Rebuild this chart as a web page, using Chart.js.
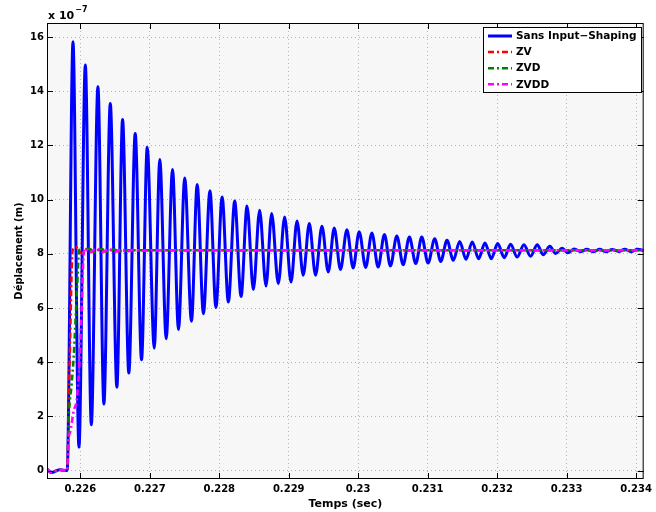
<!DOCTYPE html>
<html>
<head>
<meta charset="utf-8">
<script src="https://cdn.jsdelivr.net/npm/chart.js@4.4.0/dist/chart.umd.min.js"></script>
<style>
  html, body { margin: 0; padding: 0; background: #fff; }
  #wrap { width: 656px; height: 512px; }
</style>
</head>
<body>
<div id="wrap"><canvas id="graph" width="656" height="512"></canvas></div>
<script>
// deplacement en unites de 1e-7 m, temps en s
const tBlue = [0.22552, 0.225583, 0.225702, 0.225810, 0.225894, 0.225980, 0.226072, 0.226158, 0.226253, 0.226339,
  0.226431, 0.226526, 0.226608, 0.226698, 0.226790, 0.226881, 0.226963, 0.227064, 0.227144, 0.227236,
  0.227327, 0.227413, 0.227503, 0.227600, 0.227682, 0.227772, 0.227866, 0.227952, 0.228041, 0.228131,
  0.228222, 0.228314, 0.228400, 0.228491, 0.228581, 0.228673, 0.228754, 0.228850, 0.228941, 0.229033,
  0.229119, 0.229209, 0.229296, 0.229386, 0.229478, 0.229569, 0.229655, 0.229745, 0.229837, 0.229928,
  0.230014, 0.230108, 0.230197, 0.230287, 0.230378, 0.230464, 0.230556, 0.230647, 0.230737, 0.230829,
  0.230915, 0.231006, 0.231102, 0.231188, 0.231279, 0.231369, 0.231461, 0.231552, 0.231642, 0.231734,
  0.231825, 0.231916, 0.232008, 0.232102, 0.232194, 0.232289, 0.232386, 0.232482, 0.232577, 0.232663,
  0.232759, 0.232841, 0.232936, 0.233018, 0.233111, 0.233205, 0.233291, 0.233384, 0.233478, 0.233564,
  0.233657, 0.233751, 0.233837, 0.233930, 0.234024, 0.23411];
const yBlue = [0.05, -0.07, 0.03, 0.0, 15.83, 0.86, 14.97, 1.69, 14.17, 2.46,
  13.55, 3.08, 12.96, 3.60, 12.44, 4.09, 11.93, 4.52, 11.48, 4.87,
  11.11, 5.21, 10.80, 5.51, 10.56, 5.79, 10.33, 6.02, 10.10, 6.22,
  9.95, 6.43, 9.77, 6.68, 9.61, 6.81, 9.49, 6.90, 9.36, 6.96,
  9.21, 7.21, 9.12, 7.21, 9.02, 7.33, 8.95, 7.42, 8.89, 7.48,
  8.82, 7.50, 8.77, 7.51, 8.71, 7.55, 8.66, 7.60, 8.62, 7.64,
  8.62, 7.66, 8.56, 7.72, 8.50, 7.76, 8.46, 7.80, 8.44, 7.82,
  8.40, 7.82, 8.38, 7.86, 8.35, 7.88, 8.34, 7.91, 8.34, 7.97,
  8.28, 8.01, 8.21, 8.04, 8.18, 8.08, 8.17, 8.08, 8.17, 8.08,
  8.16, 8.09, 8.17, 8.08, 8.17, 8.12];

const tZV = [0.22552, 0.225583, 0.225702, 0.225810, 0.225846, 0.225889, 0.225935, 0.226020, 0.226110, 0.226200,
  0.226290, 0.226380, 0.226470, 0.226560, 0.226700, 0.23411];
const yZV = [0.05, -0.07, 0.03, 0.0, 4.0, 8.13, 8.25, 8.02, 8.20, 8.05,
  8.18, 8.07, 8.16, 8.09, 8.13, 8.13];

const tZVD = [0.22552, 0.225583, 0.225702, 0.225810, 0.225832, 0.225875, 0.225904, 0.225954, 0.225983, 0.226040,
  0.226120, 0.226210, 0.226300, 0.226390, 0.226480, 0.226570, 0.226700, 0.23411];
const yZVD = [0.05, -0.07, 0.03, 0.0, 1.9, 3.2, 4.2, 6.8, 8.15, 8.05,
  8.20, 8.06, 8.18, 8.08, 8.16, 8.10, 8.13, 8.13];

const tZVDD = [0.22552, 0.225583, 0.225702, 0.225810, 0.225825, 0.225861, 0.225904, 0.225947, 0.225976, 0.225997,
  0.226019, 0.226040, 0.226062, 0.226140, 0.226230, 0.226320, 0.226410, 0.226500, 0.226590, 0.226680,
  0.226770, 0.226860, 0.227000, 0.23411];
const yZVDD = [0.05, -0.07, 0.03, 0.0, 1.0, 1.5, 2.2, 2.6, 3.5, 4.5,
  6.0, 7.6, 8.20, 8.05, 8.20, 8.07, 8.18, 8.08, 8.16, 8.10,
  8.15, 8.11, 8.13, 8.13];

const xTicks = [0.226, 0.227, 0.228, 0.229, 0.23, 0.231, 0.232, 0.233, 0.234];
const yTicks = [0, 2, 4, 6, 8, 10, 12, 14, 16];
const seriesNames = ['Sans Input\u2212Shaping', 'ZV', 'ZVD', 'ZVDD'];

function pts(t, y) {
  return t.map((v, i) => ({ x: v, y: y[i] }));
}

const FONT = 'DejaVu Sans';
const dashDot = [6, 3, 2, 3];

// fond gris, cadre, graduations vers l'interieur, x10^-7, legende
const matlabLook = {
  id: 'matlabLook',
  beforeDraw(chart) {
    const { ctx, chartArea: a } = chart;
    ctx.save();
    ctx.fillStyle = '#fff';
    ctx.fillRect(0, 0, chart.width, chart.height);
    ctx.fillStyle = '#f7f7f7';
    ctx.fillRect(a.left, a.top, a.right - a.left, a.bottom - a.top);
    ctx.restore();
  },
  afterDraw(chart) {
    const { ctx, chartArea: a } = chart;
    const xs = chart.scales.x, ys = chart.scales.y;
    ctx.save();
    ctx.strokeStyle = '#000';
    ctx.lineWidth = 1;
    ctx.strokeRect(a.left + 0.5, a.top + 0.5, a.right - a.left - 1, a.bottom - a.top - 1);
    ctx.beginPath();
    xTicks.forEach(v => {
      const px = Math.round(xs.getPixelForValue(v)) + 0.5;
      ctx.moveTo(px, a.bottom); ctx.lineTo(px, a.bottom - 6);
      ctx.moveTo(px, a.top); ctx.lineTo(px, a.top + 6);
    });
    yTicks.forEach(v => {
      const py = Math.round(ys.getPixelForValue(v)) + 0.5;
      ctx.moveTo(a.left, py); ctx.lineTo(a.left + 6, py);
      ctx.moveTo(a.right, py); ctx.lineTo(a.right - 6, py);
    });
    ctx.stroke();

    // facteur d'echelle
    ctx.fillStyle = '#000';
    ctx.textBaseline = 'alphabetic';
    ctx.textAlign = 'left';
    ctx.font = 'bold 11px "' + FONT + '"';
    ctx.fillText('x 10', 48, 19);
    const w = ctx.measureText('x 10').width;
    ctx.font = 'bold 8px "' + FONT + '"';
    ctx.fillText('\u22127', 48 + w + 1, 12);

    // legende
    const lx = 483.5, ly = 27.5, lw = 158, lh = 65;
    ctx.fillStyle = '#fff';
    ctx.fillRect(lx, ly, lw, lh);
    ctx.strokeStyle = '#000';
    ctx.strokeRect(lx, ly, lw, lh);
    ctx.font = 'bold 10.5px "' + FONT + '"';
    ctx.textBaseline = 'middle';
    chart.data.datasets.forEach((ds, i) => {
      const ry = 36 + i * 16.1;
      ctx.beginPath();
      ctx.strokeStyle = ds.borderColor;
      ctx.lineWidth = ds.borderWidth;
      ctx.setLineDash(ds.borderDash || []);
      ctx.moveTo(488, ry); ctx.lineTo(512, ry);
      ctx.stroke();
      ctx.setLineDash([]);
      ctx.fillStyle = '#000';
      ctx.fillText(ds.label, 516, ry + 0.5);
    });
    ctx.restore();
  }
};

const ctx = document.getElementById('graph').getContext('2d');
const graph = new Chart(ctx, {
  type: 'scatter',
  data: {
    datasets: [
      { label: seriesNames[0], data: pts(tBlue, yBlue), showLine: true, borderColor: '#0000ff', borderWidth: 3,
        pointRadius: 0, cubicInterpolationMode: 'monotone', order: 4 },
      { label: seriesNames[1], data: pts(tZV, yZV), showLine: true, borderColor: '#ff0000', borderWidth: 2.5,
        borderDash: dashDot, pointRadius: 0, cubicInterpolationMode: 'monotone', order: 3 },
      { label: seriesNames[2], data: pts(tZVD, yZVD), showLine: true, borderColor: '#008000', borderWidth: 2.5,
        borderDash: dashDot, pointRadius: 0, cubicInterpolationMode: 'monotone', order: 2 },
      { label: seriesNames[3], data: pts(tZVDD, yZVDD), showLine: true, borderColor: '#ff00ff', borderWidth: 2.5,
        borderDash: dashDot, pointRadius: 0, cubicInterpolationMode: 'monotone', order: 1 }
    ]
  },
  options: {
    responsive: false,
    animation: false,
    devicePixelRatio: 1,
    layout: { padding: { left: 0, top: 23, right: 11, bottom: 0 } },
    plugins: { legend: { display: false }, tooltip: { enabled: false } },
    scales: {
      x: {
        type: 'linear',
        min: 0.22552,
        max: 0.23411,
        afterBuildTicks: s => { s.ticks = xTicks.map(v => ({ value: v })); },
        afterFit: s => { s.height = 33; },
        ticks: {
          callback: v => v === 0.23 ? '0.23' : v.toFixed(3),
          font: { family: FONT, weight: 'bold', size: 10 },
          color: '#000', padding: 4, maxRotation: 0, autoSkip: false
        },
        grid: { color: '#b4b4b4', lineWidth: 1, drawTicks: false },
        border: { display: false, dash: [1, 3] },
        title: { display: true, text: 'Temps (sec)', color: '#000',
          font: { family: FONT, weight: 'bold', size: 11 }, padding: { top: 0, bottom: 1 } }
      },
      y: {
        min: -0.31,
        max: 16.52,
        afterBuildTicks: s => { s.ticks = yTicks.map(v => ({ value: v })); },
        afterFit: s => { s.width = 47; },
        ticks: {
          font: { family: FONT, weight: 'bold', size: 10 },
          color: '#000', padding: 3
        },
        grid: { color: '#b4b4b4', lineWidth: 1, drawTicks: false },
        border: { display: false, dash: [1, 3] },
        title: { display: true, text: 'Déplacement (m)', color: '#000',
          font: { family: FONT, weight: 'bold', size: 10 }, padding: { top: 13, bottom: 0 } }
      }
    }
  },
  plugins: [matlabLook]
});
</script>
</body>
</html>
